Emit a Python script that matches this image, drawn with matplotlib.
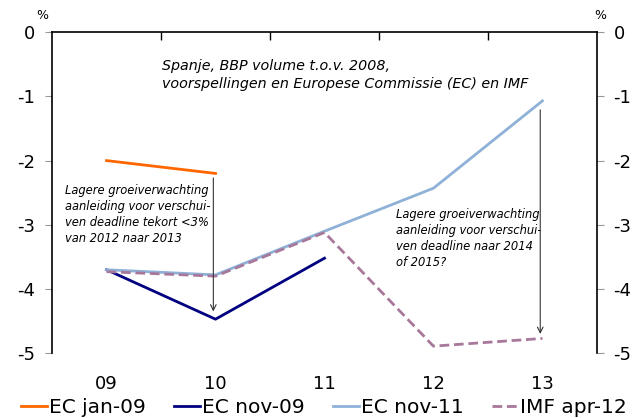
import numpy as np
import matplotlib
matplotlib.use("Agg")
import matplotlib.pyplot as plt

years = ['09', '10', '11', '12', '13']
ec_jan09 = [-2.0, -2.2, np.nan, np.nan, np.nan]
ec_nov09 = [-3.7, -4.47, -3.52, np.nan, np.nan]
ec_nov11 = [-3.7, -3.78, -3.1, -2.43, -1.07]
imf_apr12 = [-3.73, -3.8, -3.12, -4.89, -4.77]

plt.rcParams['font.family'] = ['DejaVu Sans']

fig = plt.figure(figsize=(6.35, 4.18), dpi=100)
ax = fig.add_axes([0.082, 0.155, 0.858, 0.768])
x = np.arange(len(years))

ax.plot(x, ec_jan09, color='#ff6600', lw=2, label='EC jan-09')
ax.plot(x, ec_nov09, color='#000080', lw=2, label='EC nov-09')
ax.plot(x, ec_nov11, color='#8fb1d8', lw=2, label='EC nov-11')
ax.plot(x, imf_apr12, color='#a8789b', lw=2, ls=(0, (3.5, 1.7)), label='IMF apr-12')

ax.set_xlim(-0.5, 4.5)
ax.set_ylim(-5, 0)
ax.set_yticks([0, -1, -2, -3, -4, -5])
ax.set_yticklabels(['0', '-1', '-2', '-3', '-4', '-5'])
ax.set_xticks(x)
ax.set_xticklabels(years)
ax.set_xticks([0.5, 1.5, 2.5, 3.5], minor=True)
ax.tick_params(axis='x', which='major', length=0, pad=16, labelsize=13)
ax.tick_params(axis='x', which='minor', bottom=False, top=True, direction='in', length=6, width=1)
ax.tick_params(axis='y', which='major', length=5, color='#999999', labelsize=13,
               left=True, right=True, labelleft=True, labelright=True, pad=7)
ax.spines['bottom'].set_visible(False)
for s in ['left', 'right', 'top']:
    ax.spines[s].set_linewidth(1.2)

fig.text(0.067, 0.955, '%', fontsize=9, ha='center')
fig.text(0.946, 0.955, '%', fontsize=9, ha='center')

ax.text(0.51, -0.67, 'Spanje, BBP volume t.o.v. 2008,\nvoorspellingen en Europese Commissie (EC) en IMF',
        fontsize=10.3, style='italic', va='center', linespacing=1.4)
ax.text(-0.38, -2.84, 'Lagere groeiverwachting\naanleiding voor verschui-\nven deadline tekort <3%\nvan 2012 naar 2013',
        fontsize=8.3, style='italic', va='center', linespacing=1.3)
ax.text(2.66, -3.21, 'Lagere groeiverwachting\naanleiding voor verschui-\nven deadline naar 2014\nof 2015?',
        fontsize=8.3, style='italic', va='center', linespacing=1.3)

ax.annotate('', xy=(0.98, -4.35), xytext=(0.98, -2.27),
            arrowprops=dict(arrowstyle='->', color='#333333', lw=0.8, shrinkA=0, shrinkB=0))
ax.annotate('', xy=(3.98, -4.7), xytext=(3.98, -1.21),
            arrowprops=dict(arrowstyle='->', color='#333333', lw=0.8, shrinkA=0, shrinkB=0))

fig.legend(loc='center', bbox_to_anchor=(0.51, 0.025), ncol=4, frameon=False,
           fontsize=14.5, handlelength=1.3, handletextpad=0.1, columnspacing=1.4,
           borderaxespad=0)

fig.savefig('out.png', dpi=100)
